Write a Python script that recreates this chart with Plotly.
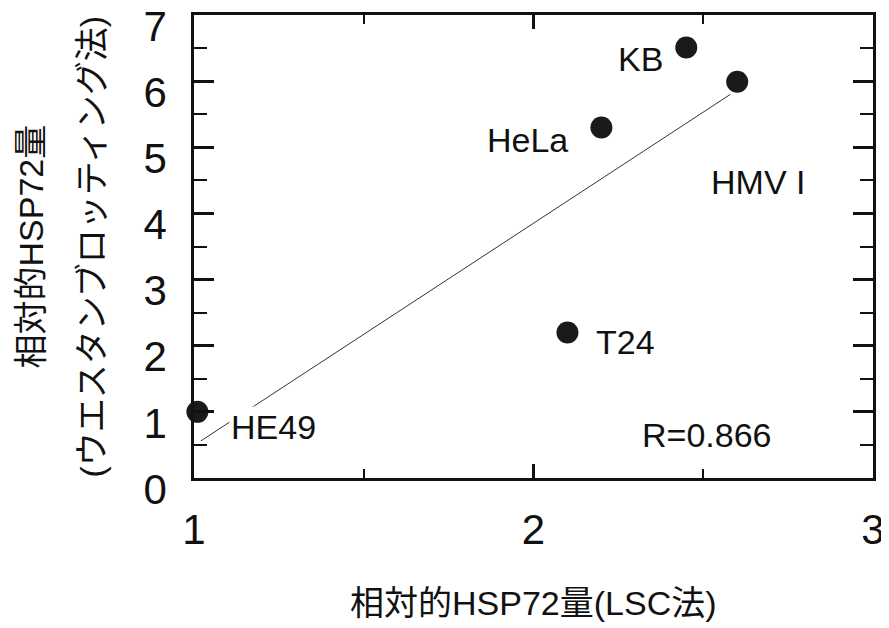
import plotly.graph_objects as go

# data
cells = ["HE49", "HeLa", "KB", "HMV I", "T24"]
lsc = [1.01, 2.20, 2.45, 2.60, 2.10]
western = [1.00, 5.30, 6.51, 5.99, 2.20]

fit_x = [1.02, 2.58]
fit_y = [0.56, 5.80]

label_x = [1.233, 1.981, 2.314, 2.661, 2.27]
label_y = [0.77, 5.11, 6.34, 4.48, 2.06]

r_text = "R=0.866"
x_ticks = [1, 2, 3]
y_ticks = [0, 1, 2, 3, 4, 5, 6, 7]

FONT = "Liberation Sans, Arial, Noto Sans CJK JP"

fig = go.Figure()
fig.add_trace(go.Scatter(x=fit_x, y=fit_y, mode="lines",
                         line=dict(color="#333333", width=1), hoverinfo="skip"))
fig.add_trace(go.Scatter(x=lsc, y=western, mode="markers", cliponaxis=False,
                         marker=dict(size=22, color="#1a1a1a"), text=cells))

for name, lx, ly in zip(cells, label_x, label_y):
    fig.add_annotation(x=lx, y=ly, text=name, showarrow=False,
                       font=dict(size=34, color="#111111", family=FONT),
                       bgcolor="white" if name == "HE49" else "rgba(0,0,0,0)")
fig.add_annotation(x=2.511, y=0.65, text=r_text, showarrow=False,
                   font=dict(size=34, color="#111111", family=FONT))

# axis titles
fig.add_annotation(xref="paper", yref="paper", x=0.5, y=0, yshift=-125,
                   xanchor="center", yanchor="middle",
                   text="相対的HSP72量(LSC法)", showarrow=False,
                   font=dict(size=34, color="#111111", family=FONT))
fig.add_annotation(xref="paper", yref="paper", x=0, xshift=-164, y=0.5,
                   xanchor="center", yanchor="middle",
                   text="相対的HSP72量", textangle=-90, showarrow=False,
                   font=dict(size=34, color="#111111", family=FONT))
fig.add_annotation(xref="paper", yref="paper", x=0, xshift=-103, y=0.5,
                   xanchor="center", yanchor="middle",
                   text="(ウエスタンブロッティング法)", textangle=-90, showarrow=False,
                   font=dict(size=34, color="#111111", family=FONT))

axis_common = dict(showgrid=False, zeroline=False, showline=True,
                   linecolor="#111111", linewidth=2.5, mirror="ticks",
                   ticks="inside", tickcolor="#111111", tickwidth=2.5,
                   automargin=False, ticklabeloverflow="allow",
                   tickfont=dict(size=42, color="#111111", family=FONT))

fig.update_xaxes(range=[1, 3], tickvals=x_ticks, ticklen=14,
                 ticklabelstandoff=13,
                 minor=dict(ticks="inside", dtick=0.5, ticklen=9,
                            tickwidth=2, tickcolor="#111111"),
                 **axis_common)
fig.update_yaxes(range=[0, 7], tickvals=y_ticks, ticklen=20,
                 ticklabelstandoff=16, ticklabelshift=11,
                 minor=dict(ticks="inside", dtick=0.5, ticklen=13,
                            tickwidth=2, tickcolor="#111111"),
                 **axis_common)

# page has an 8px body margin, so the figure is 8px smaller than the window
fig.update_layout(width=881, height=620, showlegend=False,
                  paper_bgcolor="white", plot_bgcolor="white",
                  margin=dict(l=186, r=16, t=7, b=150, autoexpand=False))

fig.write_html("out.html")
